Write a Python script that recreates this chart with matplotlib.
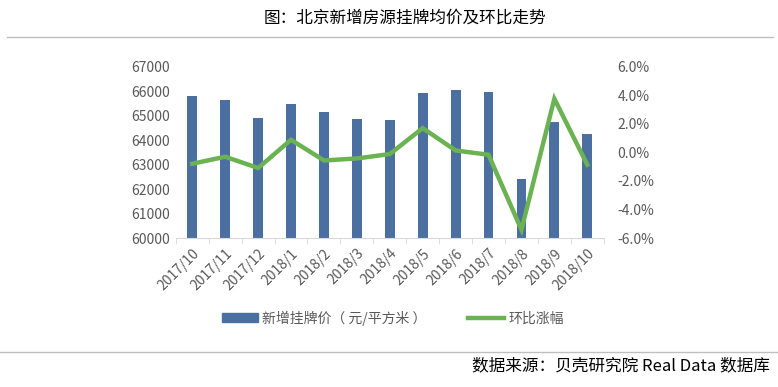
import numpy as np
import matplotlib.pyplot as plt
from matplotlib.lines import Line2D
from matplotlib.patches import Patch
from matplotlib.ticker import FuncFormatter

plt.rcParams['font.family'] = ['Noto Sans CJK SC', 'DejaVu Sans']

# data
months = ['2017/10', '2017/11', '2017/12', '2018/1', '2018/2', '2018/3', '2018/4',
          '2018/5', '2018/6', '2018/7', '2018/8', '2018/9', '2018/10']
price = [65810, 65650, 64910, 65480, 65160, 64870, 64830,
         65935, 66060, 65980, 62415, 64750, 64260]
mom = [-0.79, -0.30, -1.09, 0.89, -0.56, -0.42, -0.11,
       1.71, 0.14, -0.16, -5.42, 3.77, -0.86]

bar_color = '#4A6FA0'
line_color = '#6AB252'
grey = '#595959'

fig = plt.figure(figsize=(7.78, 3.87), dpi=100)
ax = fig.add_axes([0.226, 0.385, 0.55, 0.442])
x = np.arange(len(months))

ax.bar(x, price, width=0.3, color=bar_color, zorder=2)
ax.set_ylim(60000, 67000)
ax.set_yticks(range(60000, 67001, 1000))
ax.set_xlim(-0.5, len(months) - 0.5)
ax.set_xticks(x)
ax.set_xticklabels(months, rotation=45, ha='right', rotation_mode='anchor')
ax.set_xticks(np.arange(-0.5, len(months)), minor=True)
ax.tick_params(axis='x', which='major', length=0, pad=6, labelsize=10, labelcolor=grey)
ax.tick_params(axis='x', which='minor', length=4, color='#D9D9D9')
ax.tick_params(axis='y', length=0, labelsize=10, labelcolor=grey, pad=4)
for s in ['top', 'right', 'left']:
    ax.spines[s].set_visible(False)
ax.spines['bottom'].set_color('#D9D9D9')

ax2 = ax.twinx()
ax2.plot(x, mom, color=line_color, lw=3.2, zorder=3, solid_joinstyle='miter')
ax2.set_ylim(-6, 6)
ax2.set_yticks(np.arange(-6, 6.1, 2))
ax2.yaxis.set_major_formatter(FuncFormatter(lambda v, p: f'{v:.1f}%'))
ax2.tick_params(axis='y', length=0, labelsize=10, labelcolor=grey, pad=10)
for s in ['top', 'right', 'left', 'bottom']:
    ax2.spines[s].set_visible(False)

handles = [Patch(color=bar_color), Line2D([0], [0], color=line_color, lw=3.2)]
fig.legend(handles, ['新增挂牌价（ 元/平方米 ）', '环比涨幅'], loc='center',
           bbox_to_anchor=(0.505, 0.178), ncol=2, frameon=False,
           prop={'size': 10, 'weight': 'light'},
           labelcolor=grey, handlelength=2.6, handleheight=0.6, columnspacing=3.0,
           handletextpad=0.3)

fig.text(0.52, 0.952, '图：北京新增房源挂牌均价及环比走势', ha='center', va='center',
         fontsize=12, color='black', fontweight='light')
fig.add_artist(Line2D([0.009, 0.994], [0.905, 0.905], color='#BFBFBF', lw=1))
fig.add_artist(Line2D([0.0, 1.0], [0.09, 0.09], color='#BFBFBF', lw=1))
fig.text(0.99, 0.055, '数据来源：贝壳研究院 Real Data 数据库', ha='right', va='center',
         fontsize=12, color='black', fontweight='light')

fig.savefig('out.png', dpi=100)
